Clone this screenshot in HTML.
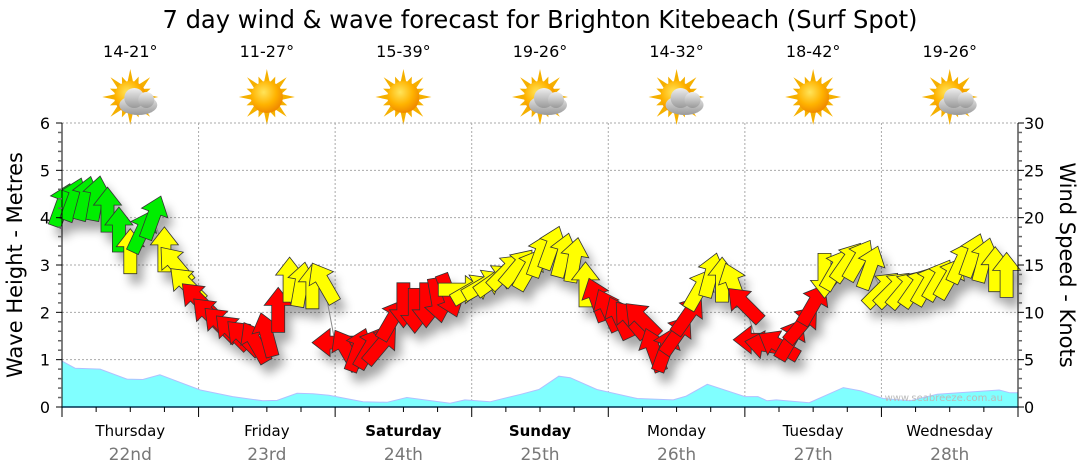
<!DOCTYPE html>
<html><head><meta charset="utf-8">
<style>
html,body{margin:0;padding:0;background:#fff;}
svg{display:block;font-family:"DejaVu Sans","Liberation Sans",sans-serif;}
</style></head>
<body>
<svg id="chart" width="1080" height="475" viewBox="0 0 1080 475" xmlns="http://www.w3.org/2000/svg">
<defs>
  <filter id="shadow" x="-50%" y="-50%" width="200%" height="200%">
    <feGaussianBlur stdDeviation="5"/>
  </filter>
  <radialGradient id="sunGrad" cx="40%" cy="35%" r="65%">
    <stop offset="0" stop-color="#ffe45a"/>
    <stop offset="0.6" stop-color="#ffb300"/>
    <stop offset="1" stop-color="#f08a00"/>
  </radialGradient>
  <linearGradient id="cloudGrad" x1="0" y1="0" x2="0" y2="1">
    <stop offset="0" stop-color="#eeeeee"/>
    <stop offset="1" stop-color="#999999"/>
  </linearGradient>
</defs>
<text x="540" y="28" font-size="25" text-anchor="middle" fill="#000" textLength="755" lengthAdjust="spacingAndGlyphs">7 day wind &amp; wave forecast for Brighton Kitebeach (Surf Spot)</text>
<g id="icons"></g>
<g id="grid"></g>
<g id="wave"></g>
<g id="windShadow" filter="url(#shadow)" opacity="0.35"></g>
<g id="wind"></g>
<g id="axes"></g>
<text x="1003" y="401" font-size="10" fill="#bbb" text-anchor="end">www.seabreeze.com.au</text>
<text transform="translate(22,265) rotate(-90)" font-size="21" text-anchor="middle" fill="#000">Wave Height - Metres</text>
<text transform="translate(1060,265) rotate(90)" font-size="21" text-anchor="middle" fill="#000">Wind Speed - Knots</text>
</svg>
<script>
const days = ["Thursday","Friday","Saturday","Sunday","Monday","Tuesday","Wednesday"];
const dates = ["22nd","23rd","24th","25th","26th","27th","28th"];
const boldDays = [false,false,true,true,false,false,false];
const temps = ["14-21°","11-27°","15-39°","19-26°","14-32°","18-42°","19-26°"];
const cloudy = [true,false,false,true,true,false,true];
const leftTicks = [0,1,2,3,4,5,6];
const rightTicks = [0,5,10,15,20,25,30];

const windSpeeds = [
 21.3,21.9,22,22,20.8,18.7,16.4,18.5,20,16.6,15,12.9,
 11.3,9.7,8.7,7.9,7.3,6.8,7.6,10.2,13.4,12.9,12.7,13.1,
 6.8,6,6,6.2,6.5,9.2,10.8,10.2,10.8,11.3,11.8,12.4,
 12.4,12.9,13.4,14.3,14.7,14.5,16,16.8,16,15.5,12.9,11.3,
 10.2,9.4,9.2,9.2,6,6,7.6,9.7,12.4,13.9,13.4,12.9,
 10.8,7.1,6.5,6.5,7.1,8.7,10.8,13.9,14.5,15.3,15.5,14.7,
 12.4,12.4,12.4,12.6,12.9,13.4,13.6,15.3,16,15.5,14.5,13.9];
const windDirs = [
 20,20,15,10,0,0,0,25,20,0,320,315,
 315,315,315,315,315,330,345,0,0,10,0,330,
 270,330,20,30,40,30,180,180,180,170,160,90,
 60,60,55,45,40,30,20,20,15,10,0,340,
 335,335,320,315,340,20,35,35,30,15,0,340,
 315,270,280,300,30,40,30,180,30,35,30,20,
 45,45,40,35,30,30,30,25,20,15,0,0];
const windHours = windSpeeds.map((_, i) => i * 2);

const waveHours = [0,2.3,6.7,11.4,14.2,17.2,24.3,30,35.3,37.8,41.3,44.1,
 46.9,52.9,57.1,60.6,68.2,70.8,75.2,80.7,83.8,87.3,89.3,94.0,101.1,107.4,109.7,113.4,
 120.0,122.3,123.9,125.5,131.3,137.3,140.4,144.3,149.0,153.8,164.7,166.6];
const waveHeights = [0.97,0.82,0.8,0.59,0.58,0.68,0.36,0.22,0.13,0.14,0.29,0.28,
 0.25,0.11,0.1,0.2,0.08,0.15,0.11,0.27,0.37,0.65,0.62,0.37,0.18,0.15,0.23,0.48,
 0.22,0.22,0.13,0.15,0.09,0.41,0.34,0.18,0.13,0.27,0.36,0.3];

const NS = "http://www.w3.org/2000/svg";
const X0 = 62, X1 = 1018, Y0 = 407, Y1 = 123;
const xH = h => X0 + h * (X1 - X0) / 168;
const yM = m => Y0 - m * (Y0 - Y1) / 6;
const yK = k => Y0 - k * (Y0 - Y1) / 30;
function mk(tag, attrs, parent){const e=document.createElementNS(NS,tag);for(const k in attrs)e.setAttribute(k,attrs[k]);parent.appendChild(e);return e;}

const grid = document.getElementById("grid");
for (let m = 1; m <= 6; m++) {
  const l = mk("line",{x1:X0,x2:X1,y1:yM(m),y2:yM(m),stroke:"#aaa","stroke-dasharray":"2,2"},grid);
  
  
}
for (let d = 1; d < 7; d++) {
  const l = mk("line",{x1:xH(d*24),x2:xH(d*24),y1:Y1,y2:Y0,stroke:"#aaa","stroke-dasharray":"2,2"},grid);
  
  
}

const wave = document.getElementById("wave");
let d = "M" + xH(0) + "," + Y0;
waveHours.forEach((h,i)=>{ d += " L" + xH(h).toFixed(1) + "," + yM(waveHeights[i]).toFixed(1); });
d += " L" + xH(168) + "," + yM(waveHeights[waveHeights.length-1]).toFixed(1) + " L" + xH(168) + "," + Y0 + " Z";
const wa = mk("path",{d:d,fill:"#80ffff",stroke:"#b0c0ff","stroke-width":1},wave);



const wind = document.getElementById("wind"), wsh = document.getElementById("windShadow");
function arrowPath(){
  return "M0,-23 L14,-5 L6.5,-5 L6.5,22 L-6.5,22 L-6.5,-5 L-14,-5 Z";
}
let ld = "";
windHours.forEach((h,i)=>{ ld += (i?" L":"M") + xH(h).toFixed(1)+","+yK(windSpeeds[i]).toFixed(1); });
const cl = mk("path",{d:ld,fill:"none",stroke:"#888","stroke-width":1},wind);


windHours.forEach((h,i)=>{
  const k = windSpeeds[i];
  const col = k >= 18 ? "#00ee00" : (k >= 12 ? "#ffff00" : "#ff0000");
  const tf = "translate(" + xH(h).toFixed(1) + "," + yK(k).toFixed(1) + ") rotate(" + windDirs[i] + ")";
  mk("path",{d:arrowPath(),fill:"#000",transform:"translate(6,10) " + tf},wsh);
  const a = mk("path",{d:arrowPath(),fill:col,stroke:"#333","stroke-width":0.8,transform:tf},wind);
  
  
});

const axes = document.getElementById("axes");
mk("line",{x1:X0,x2:X0,y1:Y1,y2:Y0,stroke:"#000"},axes);
mk("line",{x1:X1,x2:X1,y1:Y1,y2:Y0,stroke:"#000"},axes);
mk("line",{x1:X0,x2:X1,y1:Y0,y2:Y0,stroke:"#003050","stroke-width":1.5},axes);
for (let m = 0; m <= 6.001; m += 0.2) {
  const major = Math.abs(m - Math.round(m)) < 0.01;
  mk("line",{x1:X0-(major?6:4),x2:X0,y1:yM(m),y2:yM(m),stroke:major?"#000":"#666","stroke-width":major?1:1.5},axes);
}
leftTicks.forEach(m=>{
  const t = mk("text",{x:50,y:yM(m)+6,"font-size":16,"text-anchor":"end",fill:"#000"},axes);
  t.textContent = m;
  
  
});
for (let k = 0; k <= 30; k++) {
  const major = k % 5 === 0;
  mk("line",{x1:X1,x2:X1+(major?6:4),y1:yK(k),y2:yK(k),stroke:major?"#000":"#666","stroke-width":major?1:1.5},axes);
}
rightTicks.forEach(k=>{
  const t = mk("text",{x:1024,y:yK(k)+6,"font-size":16,"text-anchor":"start",fill:"#000"},axes);
  t.textContent = k;
  
  
});
for (let h = 0; h <= 168; h += 6) {
  const major = h % 24 === 0;
  mk("line",{x1:xH(h),x2:xH(h),y1:Y0,y2:Y0+(major?10:5),stroke:"#000"},axes);
}
const icons = document.getElementById("icons");
days.forEach((name,i)=>{
  const cx = xH(i*24+12);
  const t = mk("text",{x:cx,y:436,"font-size":15,"text-anchor":"middle",fill:"#000","font-weight":boldDays[i]?"bold":"normal"},axes);
  t.textContent = name;
  
  
  const dt = mk("text",{x:cx,y:460,"font-size":17,"text-anchor":"middle",fill:"#777"},axes);
  dt.textContent = dates[i];
  
  
  const tp = mk("text",{x:cx,y:57,"font-size":16,"text-anchor":"middle",fill:"#000"},icons);
  tp.textContent = temps[i];
  
  
  const g = mk("g",{transform:"translate(" + cx + ",97)"},icons);
  
  
  for (let r = 0; r < 16; r++) {
    const ang = r * 22.5;
    const len = r % 2 ? 22 : 28;
    mk("path",{d:"M-3,-14 L0,-" + len + " L3,-14 Z",fill:"#f5b000",transform:"rotate(" + ang + ")"},g);
  }
  mk("circle",{cx:0,cy:0,r:16,fill:"url(#sunGrad)"},g);
  if (cloudy[i]) {
    const c = mk("g",{transform:"translate(8,4)"},g);
    mk("ellipse",{cx:0,cy:4,rx:19,ry:10,fill:"url(#cloudGrad)"},c);
    mk("circle",{cx:-4,cy:-3,r:10,fill:"url(#cloudGrad)"},c);
    mk("circle",{cx:8,cy:-1,r:8,fill:"url(#cloudGrad)"},c);
  }
});
</script>
</body></html>
